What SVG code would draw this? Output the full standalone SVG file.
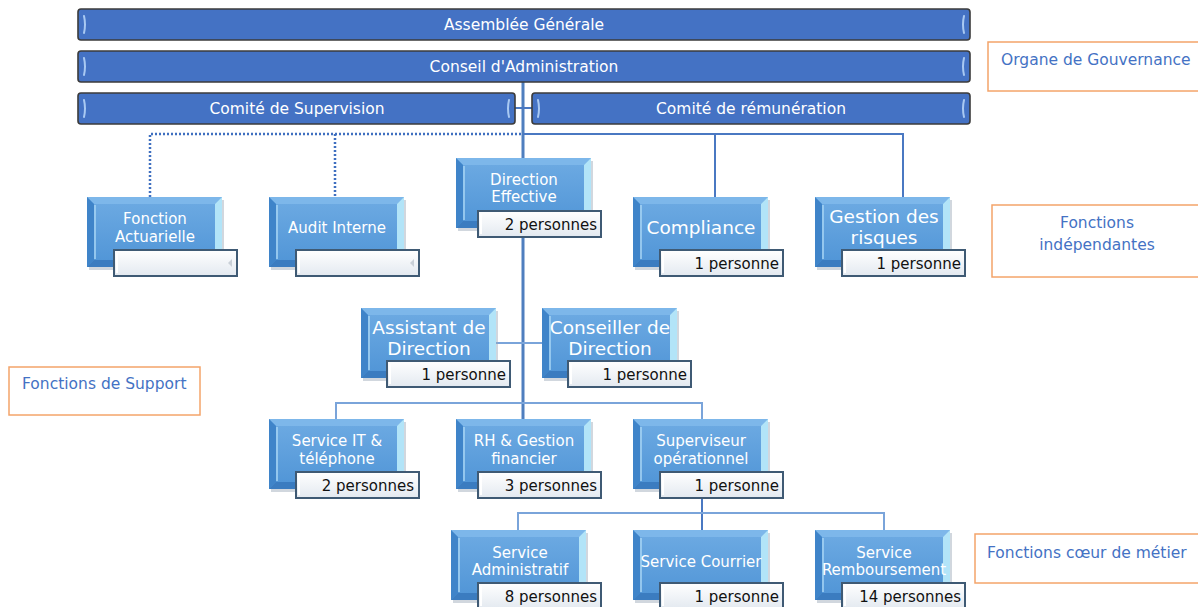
<svg xmlns="http://www.w3.org/2000/svg" width="1198" height="607" viewBox="0 0 1198 607">
<style>
.bar{fill:#4472C4;stroke:#3b3b3b;stroke-width:1.6}
.barmark{fill:none;stroke:#a9c9f2;stroke-width:2;stroke-linecap:round}
.bt{font-family:"DejaVu Sans",Verdana,sans-serif;font-size:15.5px;fill:#ffffff;text-anchor:middle}
.nt{font-family:"DejaVu Sans",Verdana,sans-serif;font-size:15px;fill:#ffffff;text-anchor:middle}
.nl{font-family:"DejaVu Sans",Verdana,sans-serif;font-size:18.5px;fill:#ffffff;text-anchor:middle}
.lt{font-family:"DejaVu Sans",Verdana,sans-serif;font-size:15px;fill:#111111;text-anchor:end}
.gt{font-family:"DejaVu Sans",Verdana,sans-serif;font-size:15.5px;fill:#4472C4}
.gbox{fill:#ffffff;stroke:#F4A46A;stroke-width:1.5}
.c{fill:none;stroke:#4a78c2;stroke-width:2}
.cm{fill:none;stroke:#4f7fbf;stroke-width:3}
.cs{fill:none;stroke:#7aa4da;stroke-width:2}
.cd{fill:none;stroke:#3f6fc0;stroke-width:2.5;stroke-dasharray:2 2}
</style>
<defs>
<linearGradient id="face" x1="0" y1="0" x2="0" y2="1">
<stop offset="0" stop-color="#6eabe3"/>
<stop offset="1" stop-color="#4f94d6"/>
</linearGradient>
<linearGradient id="lab" x1="0" y1="0" x2="0" y2="1">
<stop offset="0" stop-color="#ffffff"/>
<stop offset="1" stop-color="#e3e9f0"/>
</linearGradient>
<g id="nb">
<rect x="2" y="3" width="135" height="70" fill="#9aa7b5" opacity="0.45"/>
<rect x="0" y="0" width="135" height="70" fill="url(#face)"/>
<polygon points="0,0 135,0 128,7 7,7" fill="#7db7ea"/>
<polygon points="0,0 7,7 7,63 0,70" fill="#3f84c9"/>
<polygon points="135,0 135,70 128,63 128,7" fill="#b2e4f8"/>
<polygon points="0,70 7,63 128,63 135,70" fill="#3b7cc0"/>
<line x1="8" y1="8" x2="8" y2="62" stroke="#a8d6f5" stroke-width="1.5"/>
</g>
<g id="lb">
<rect x="0" y="0" width="123" height="26" fill="url(#lab)" stroke="#3f5a74" stroke-width="2"/>
<line x1="3" y1="3" x2="3" y2="23" stroke="#ffffff" stroke-width="2"/>
</g>
<g id="lbe">
<use href="#lb"/>
<polygon points="118,9 118,17 114,13" fill="#c9d0d8"/>
</g>
</defs>

<g id="connectors">
<line class="cm" x1="523" y1="82" x2="523" y2="419"/>
<line class="c" x1="515" y1="108" x2="532" y2="108"/>
<polyline class="cd" points="150,197 150,134 523,134"/>
<line class="cd" x1="335" y1="134" x2="335" y2="197"/>
<polyline class="c" points="523,134 903,134 903,197"/>
<line class="c" x1="715" y1="134" x2="715" y2="197"/>
<line class="cs" x1="496" y1="343" x2="542" y2="343"/>
<polyline class="cs" points="336,419 336,403 702,403 702,419"/>
<line class="c" x1="702" y1="498" x2="702" y2="530"/>
<polyline class="cs" points="518,530 518,513 884,513 884,530"/>
</g>

<g id="assemblee">
<rect class="bar" x="78" y="9" width="892" height="31" rx="3"/>
<path class="barmark" d="M84 16 Q86 24.5 84 33 M964 16 Q962 24.5 964 33"/>
<text class="bt" x="524" y="30">Assemblée Générale</text>
</g>
<g id="conseil">
<rect class="bar" x="78" y="51" width="892" height="31" rx="3"/>
<path class="barmark" d="M84 58 Q86 66.5 84 75 M964 58 Q962 66.5 964 75"/>
<text class="bt" x="524" y="72">Conseil d'Administration</text>
</g>
<g id="comite-supervision">
<rect class="bar" x="78" y="93" width="437" height="31" rx="3"/>
<path class="barmark" d="M84 100 Q86 108.5 84 117 M509 100 Q507 108.5 509 117"/>
<text class="bt" x="297" y="114">Comité de Supervision</text>
</g>
<g id="comite-remuneration">
<rect class="bar" x="532" y="93" width="438" height="31" rx="3"/>
<path class="barmark" d="M538 100 Q540 108.5 538 117 M964 100 Q962 108.5 964 117"/>
<text class="bt" x="751" y="114">Comité de rémunération</text>
</g>

<g id="fonction-actuarielle">
<use href="#nb" x="87" y="197"/>
<text class="nt" x="155" y="224">Fonction</text>
<text class="nt" x="155" y="242">Actuarielle</text>
<use href="#lbe" x="114" y="250"/>
</g>
<g id="audit-interne">
<use href="#nb" x="269" y="197"/>
<text class="nt" x="337" y="233">Audit Interne</text>
<use href="#lbe" x="296" y="250"/>
</g>
<g id="direction-effective">
<use href="#nb" x="456" y="158"/>
<text class="nt" x="524" y="185">Direction</text>
<text class="nt" x="524" y="202">Effective</text>
<use href="#lb" x="478" y="211"/>
<text class="lt" x="597" y="230">2 personnes</text>
</g>
<g id="compliance">
<use href="#nb" x="633" y="197"/>
<text class="nl" x="701" y="234">Compliance</text>
<use href="#lb" x="660" y="250"/>
<text class="lt" x="779" y="269">1 personne</text>
</g>
<g id="gestion-risques">
<use href="#nb" x="815" y="197"/>
<text class="nl" x="884" y="223">Gestion des</text>
<text class="nl" x="884" y="244">risques</text>
<use href="#lb" x="842" y="250"/>
<text class="lt" x="961" y="269">1 personne</text>
</g>
<g id="assistant-direction">
<use href="#nb" x="361" y="308"/>
<text class="nl" x="429" y="334">Assistant de</text>
<text class="nl" x="429" y="355">Direction</text>
<use href="#lb" x="387" y="361"/>
<text class="lt" x="506" y="380">1 personne</text>
</g>
<g id="conseiller-direction">
<use href="#nb" x="542" y="308"/>
<text class="nl" x="610" y="334">Conseiller de</text>
<text class="nl" x="610" y="355">Direction</text>
<use href="#lb" x="568" y="361"/>
<text class="lt" x="687" y="380">1 personne</text>
</g>
<g id="service-it">
<use href="#nb" x="269" y="419"/>
<text class="nt" x="337" y="446">Service IT &amp;</text>
<text class="nt" x="337" y="464">téléphone</text>
<use href="#lb" x="296" y="472"/>
<text class="lt" x="414" y="491">2 personnes</text>
</g>
<g id="rh-gestion">
<use href="#nb" x="456" y="419"/>
<text class="nt" x="524" y="446">RH &amp; Gestion</text>
<text class="nt" x="524" y="464">financier</text>
<use href="#lb" x="478" y="472"/>
<text class="lt" x="597" y="491">3 personnes</text>
</g>
<g id="superviseur">
<use href="#nb" x="633" y="419"/>
<text class="nt" x="701" y="446">Superviseur</text>
<text class="nt" x="701" y="464">opérationnel</text>
<use href="#lb" x="660" y="472"/>
<text class="lt" x="779" y="491">1 personne</text>
</g>
<g id="service-administratif">
<use href="#nb" x="451" y="530"/>
<text class="nt" x="520" y="558">Service</text>
<text class="nt" x="520" y="575">Administratif</text>
<use href="#lb" x="478" y="583"/>
<text class="lt" x="597" y="602">8 personnes</text>
</g>
<g id="service-courrier">
<use href="#nb" x="633" y="530"/>
<text class="nt" x="701" y="567">Service Courrier</text>
<use href="#lb" x="660" y="583"/>
<text class="lt" x="779" y="602">1 personne</text>
</g>
<g id="service-remboursement">
<use href="#nb" x="815" y="530"/>
<text class="nt" x="884" y="558">Service</text>
<text class="nt" x="884" y="575">Remboursement</text>
<use href="#lb" x="842" y="583"/>
<text class="lt" x="961" y="602">14 personnes</text>
</g>

<g id="legend-gouvernance">
<rect class="gbox" x="988" y="42" width="215" height="49"/>
<text class="gt" x="1001" y="65">Organe de Gouvernance</text>
</g>
<g id="legend-independantes">
<rect class="gbox" x="992" y="205" width="211" height="72"/>
<text class="gt" x="1097" y="228" text-anchor="middle">Fonctions</text>
<text class="gt" x="1097" y="250" text-anchor="middle">indépendantes</text>
</g>
<g id="legend-support">
<rect class="gbox" x="9" y="367" width="191" height="48"/>
<text class="gt" x="22" y="389">Fonctions de Support</text>
</g>
<g id="legend-coeur">
<rect class="gbox" x="975" y="534" width="228" height="49"/>
<text class="gt" x="987" y="558">Fonctions cœur de métier</text>
</g>
</svg>
